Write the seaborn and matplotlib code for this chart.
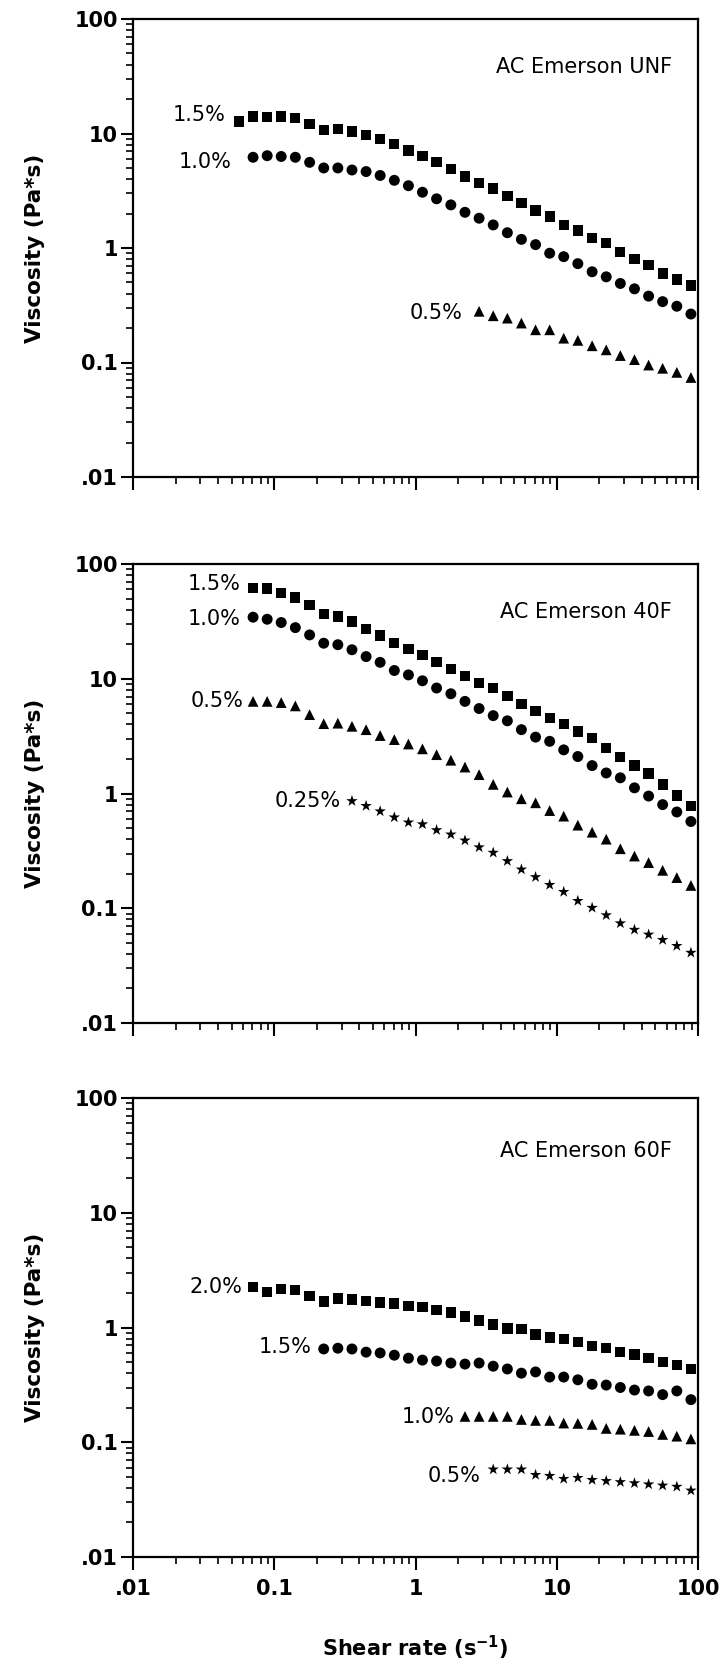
import matplotlib
matplotlib.use("Agg")
import matplotlib.pyplot as plt
import numpy as np
import pandas as pd
import seaborn as sns
from matplotlib.ticker import FixedLocator, FixedFormatter, LogLocator, NullFormatter

# ---------------- data ----------------
# shear rates (s^-1) of the measurement grid (all series end at the last one)
SHEAR = [0.0562, 0.0708, 0.0891, 0.112, 0.141, 0.178, 0.224, 0.282, 0.355, 0.447,
         0.562, 0.708, 0.891, 1.12, 1.41, 1.78, 2.24, 2.82, 3.55, 4.47,
         5.62, 7.08, 8.91, 11.2, 14.1, 17.8, 22.4, 28.2, 35.5, 44.7,
         56.2, 70.8, 89.1]

# AC Emerson UNF
UNF_15 = [12.7, 14.1, 14.0, 14.1, 13.6, 12.1, 10.7, 10.9, 10.4, 9.7, 8.9, 8.05, 7.1,
          6.4, 5.6, 4.9, 4.2, 3.7, 3.3, 2.85, 2.46, 2.12, 1.88, 1.59, 1.42, 1.22,
          1.10, 0.92, 0.80, 0.71, 0.60, 0.53, 0.47]
UNF_10 = [6.2, 6.4, 6.3, 6.2, 5.6, 5.0, 5.0, 4.8, 4.65, 4.3, 3.9, 3.5, 3.07, 2.69,
          2.38, 2.05, 1.82, 1.59, 1.36, 1.19, 1.07, 0.90, 0.84, 0.73, 0.62, 0.56,
          0.49, 0.44, 0.38, 0.34, 0.31, 0.265]
UNF_05 = [0.28, 0.256, 0.244, 0.221, 0.193, 0.193, 0.163, 0.156, 0.14, 0.129,
          0.115, 0.106, 0.095, 0.089, 0.082, 0.074]

# AC Emerson 40F
F40_15 = [61.4, 61.0, 56.0, 51.0, 44.0, 36.7, 34.8, 31.5, 27.0, 23.8, 20.4, 18.1,
          16.0, 13.9, 12.1, 10.6, 9.2, 8.3, 7.1, 6.0, 5.2, 4.55, 4.06, 3.48, 3.05,
          2.5, 2.08, 1.75, 1.49, 1.2, 0.96, 0.78]
F40_10 = [34.4, 33.0, 30.9, 27.9, 24.1, 20.4, 19.8, 17.9, 15.6, 13.9, 11.8, 10.8,
          9.6, 8.3, 7.4, 6.35, 5.5, 4.77, 4.3, 3.6, 3.1, 2.85, 2.4, 2.1, 1.75, 1.51,
          1.37, 1.12, 0.95, 0.80, 0.69, 0.57]
F40_05 = [6.35, 6.35, 6.2, 5.8, 4.87, 4.06, 4.1, 3.85, 3.6, 3.2, 2.95, 2.7, 2.45,
          2.18, 1.95, 1.7, 1.46, 1.2, 1.03, 0.90, 0.83, 0.71, 0.635, 0.53, 0.46,
          0.40, 0.33, 0.285, 0.25, 0.214, 0.185, 0.158]
F40_025 = [0.86, 0.78, 0.70, 0.62, 0.56, 0.54, 0.48, 0.44, 0.39, 0.34, 0.305, 0.258,
           0.218, 0.187, 0.16, 0.139, 0.116, 0.101, 0.087, 0.074, 0.065, 0.059,
           0.053, 0.047, 0.041]

# AC Emerson 60F
F60_20 = [2.25, 2.04, 2.16, 2.12, 1.89, 1.68, 1.79, 1.75, 1.71, 1.65, 1.62, 1.55,
          1.51, 1.43, 1.35, 1.25, 1.15, 1.06, 0.98, 0.97, 0.87, 0.82, 0.79, 0.75,
          0.69, 0.66, 0.61, 0.58, 0.54, 0.50, 0.47, 0.435]
F60_15 = [0.65, 0.66, 0.65, 0.61, 0.60, 0.574, 0.54, 0.52, 0.51, 0.49, 0.48, 0.49,
          0.46, 0.435, 0.40, 0.41, 0.37, 0.37, 0.35, 0.32, 0.315, 0.30, 0.285, 0.28,
          0.26, 0.28, 0.235]
F60_10 = [0.168, 0.168, 0.168, 0.168, 0.158, 0.155, 0.155, 0.147, 0.146, 0.143,
          0.132, 0.130, 0.127, 0.124, 0.117, 0.113, 0.107]
F60_05 = [0.058, 0.058, 0.058, 0.052, 0.051, 0.048, 0.049, 0.047, 0.046, 0.045,
          0.044, 0.043, 0.042, 0.041, 0.038]

TITLES = ["AC Emerson UNF", "AC Emerson 40F", "AC Emerson 60F"]
SERIES = [
    [("1.5%", UNF_15), ("1.0%", UNF_10), ("0.5%", UNF_05)],
    [("1.5%", F40_15), ("1.0%", F40_10), ("0.5%", F40_05), ("0.25%", F40_025)],
    [("2.0%", F60_20), ("1.5%", F60_15), ("1.0%", F60_10), ("0.5%", F60_05)],
]
TICK_VALUES = [0.01, 0.1, 1, 10, 100]
TICK_LABELS = [".01", "0.1", "1", "10", "100"]

# ---------------- layout / style ----------------
MARKERS = ["s", "o", "^", "*"]
SIZES = [55, 62, 60, 75]
# label anchor (right edge) positions in axes fraction
LABEL_POS = [
    [(0.164, 0.790), (0.174, 0.687), (0.583, 0.358)],
    [(0.190, 0.957), (0.190, 0.880), (0.195, 0.702), (0.367, 0.483)],
    [(0.194, 0.588), (0.316, 0.457), (0.569, 0.306), (0.615, 0.177)],
]
TITLE_POS = [(0.955, 0.896), (0.954, 0.896), (0.953, 0.884)]
AX_RECTS = [  # (top px, bottom px)
    (19, 477), (564, 1023), (1098, 1557)]
W, H = 720, 1672
LEFT, RIGHT = 133, 698

sns.set_theme(style="ticks")
plt.rcParams["font.family"] = ["DejaVu Sans"]
for key in ("text.color", "axes.labelcolor", "xtick.color", "ytick.color",
            "axes.edgecolor"):
    plt.rcParams[key] = "black"

fig = plt.figure(figsize=(W / 100, H / 100), dpi=100)

for p in range(3):
    top, bot = AX_RECTS[p]
    ax = fig.add_axes([LEFT / W, 1 - bot / H, (RIGHT - LEFT) / W, (bot - top) / H])
    rows = []
    for i, (lab, vals) in enumerate(SERIES[p]):
        xs = SHEAR[len(SHEAR) - len(vals):]
        rows.append(pd.DataFrame({"shear": xs, "visc": vals, "conc": lab, "k": i}))
    df = pd.concat(rows, ignore_index=True)
    mk = {i: MARKERS[i] for i in range(len(SERIES[p]))}
    sz = {i: SIZES[i] for i in range(len(SERIES[p]))}
    sns.scatterplot(data=df, x="shear", y="visc", style="k", markers=mk,
                    size="k", sizes=sz, color="black", edgecolor="black",
                    linewidth=0, legend=False, ax=ax, zorder=3, clip_on=False)
    ax.set_xscale("log")
    ax.set_yscale("log")
    ax.set_xlim(0.01, 100)
    ax.set_ylim(0.01, 100)

    for axis in (ax.xaxis, ax.yaxis):
        axis.set_major_locator(FixedLocator(TICK_VALUES))
        axis.set_major_formatter(FixedFormatter(TICK_LABELS))
        axis.set_minor_locator(LogLocator(base=10, subs=np.arange(2, 10), numticks=20))
        axis.set_minor_formatter(NullFormatter())
    ax.tick_params(which="major", direction="out", length=9, width=1.5,
                   top=False, right=False, labelsize=15, pad=2,
                   color="black", labelcolor="black")
    ax.tick_params(which="minor", direction="out", length=5, width=1.2,
                   top=False, right=False, color="black")
    ax.tick_params(axis="x", which="major", pad=7)
    for lbl in ax.get_xticklabels() + ax.get_yticklabels():
        lbl.set_fontweight("bold")
    if p < 2:
        ax.tick_params(axis="x", labelbottom=False)
        ax.set_xlabel("")
    else:
        ax.set_xlabel("Shear rate (s$^{\\mathbf{-1}}$)", fontsize=15,
                      fontweight="bold", color="black")
        ax.xaxis.set_label_coords(0.5, -0.168)
        ax.xaxis.label.set_va("top")
    ax.set_ylabel("Viscosity (Pa*s)", fontsize=15.5, fontweight="bold", color="black")
    ax.yaxis.set_label_coords(-0.155, 0.5)

    for sp in ax.spines.values():
        sp.set_linewidth(1.6)
        sp.set_color("black")
        sp.set_visible(True)
    ax.grid(False)

    for (lab, _), (tx, ty) in zip(SERIES[p], LABEL_POS[p]):
        ax.text(tx, ty, lab, transform=ax.transAxes, ha="right", va="center",
                fontsize=15, color="black")
    ax.text(TITLE_POS[p][0], TITLE_POS[p][1], TITLES[p], transform=ax.transAxes,
            ha="right", va="center", fontsize=15, color="black")

fig.savefig("out.png", dpi=100, facecolor="white")
